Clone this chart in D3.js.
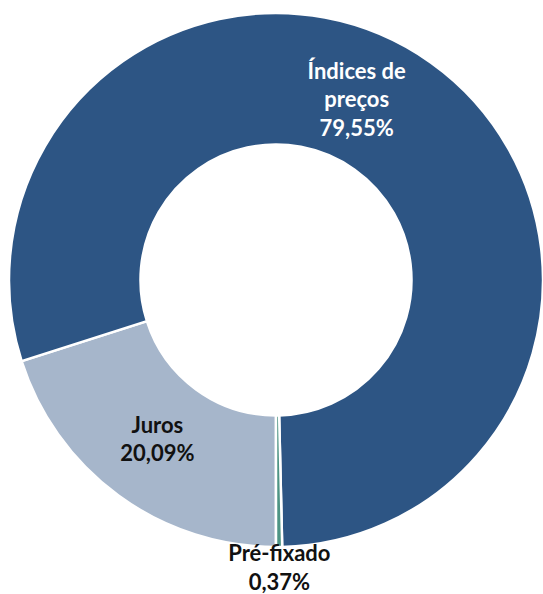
<!DOCTYPE html>
<meta charset="utf-8">
<style>

html, body {
  margin: 0;
  width: 543px;
  height: 594px;
  background: #fff;
  overflow: hidden;
}

.slices path {
  stroke: #fff;
  stroke-width: 2.5px;
}

.labels text {
  font-family: Lato, sans-serif;
  font-weight: bold;
  font-size: 22px;
  text-anchor: middle;
}

</style>
<svg class="chart"></svg>
<script src="https://d3js.org/d3.v7.min.js"></script>
<script>

var width = 543;
var height = 594;

// Excel order, first slice at 180 degrees
var categories = ['Juros', 'Índices de preços', 'Pré-fixado'];
var values = [20.09, 79.55, 0.37];
var valueLabels = ['20,09%', '79,55%', '0,37%'];
var labelLines = [['Juros'], ['Índices de', 'preços'], ['Pré-fixado']];
var colors = ['#a6b6cb', '#2d5584', '#4e9484'];
var textColors = ['#111', '#fff', '#111'];

var cx = 276, cy = 280;
var outerR = 267, innerR = 135.5;

// label nudges away from the centroid (Excel best-fit placement)
var labelShift = [[0, -3], [-36, -17], [0, -2]];
var labelRadius = [201, 201, 290];

var svg = d3.select('svg.chart')
  .attr('width', width)
  .attr('height', height);

var g = svg.append('g')
  .attr('transform', 'translate(' + cx + ',' + cy + ')');

var data = categories.map(function (c, i) {
  return {name: c, value: values[i], i: i};
});

var pie = d3.pie()
  .sort(null)
  .value(function (d) { return d.value; })
  .startAngle(Math.PI)
  .endAngle(3 * Math.PI);

var arc = d3.arc()
  .innerRadius(innerR)
  .outerRadius(outerR);

var arcs = pie(data);

g.append('g')
    .attr('class', 'slices')
  .selectAll('path')
  .data(arcs)
  .enter().append('path')
    .attr('fill', function (d) { return colors[d.data.i]; })
    .attr('d', arc);

var lineH = 28.5;

var label = g.append('g')
    .attr('class', 'labels')
  .selectAll('text')
  .data(arcs)
  .enter().append('text')
    .attr('fill', function (d) { return textColors[d.data.i]; })
    .attr('transform', function (d) {
      var i = d.data.i;
      var r = labelRadius[i];
      var p = d3.arc().innerRadius(r).outerRadius(r).centroid(d);
      return 'translate(' + (p[0] + labelShift[i][0]) + ',' + (p[1] + labelShift[i][1]) + ')';
    });

label.each(function (d) {
  var i = d.data.i;
  var lines = labelLines[i].concat([valueLabels[i]]);
  var t = d3.select(this);
  var y0 = -(lines.length - 1) * lineH / 2;
  lines.forEach(function (s, k) {
    t.append('tspan')
      .attr('x', 0)
      .attr('y', y0 + k * lineH)
      .attr('dy', '0.35em')
      .text(s);
  });
});

</script>
